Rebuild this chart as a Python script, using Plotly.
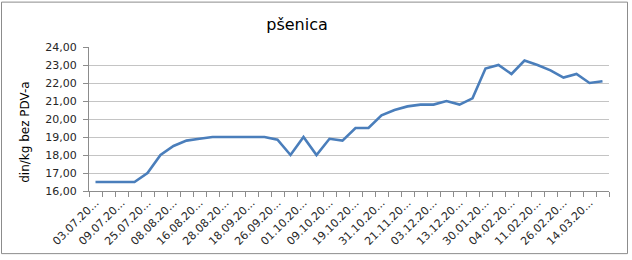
import plotly.graph_objects as go

# Data
values = [16.5, 16.5, 16.5, 16.5, 17.0, 18.0, 18.5, 18.8, 18.9, 19.0,
          19.0, 19.0, 19.0, 19.0, 18.85, 18.0, 19.0, 18.0, 18.9, 18.8,
          19.5, 19.5, 20.2, 20.5, 20.7, 20.8, 20.8, 21.0, 20.8, 21.15,
          22.8, 23.0, 22.5, 23.25, 23.0, 22.7, 22.3, 22.5, 22.0, 22.1]
# visible (truncated) tick labels, one every second observation
tick_labels = ["03.07.20...", "09.07.20...", "25.07.20...", "08.08.20...",
               "16.08.20...", "28.08.20...", "18.09.20...", "26.09.20...",
               "01.10.20...", "09.10.20...", "19.10.20...", "31.10.20...",
               "21.11.20...", "03.12.20...", "13.12.20...", "30.01.20...",
               "04.02.20...", "11.02.20...", "26.02.20...", "14.03.20..."]
title_text = "pšenica"
y_title = "din/kg bez PDV-a"

n = len(values)
xs = list(range(n))
tickvals = xs[::2][:len(tick_labels)]

FONT = "DejaVu Sans"
W, H = 632, 260
ML, MR, MT, MB = 89, 23, 47, 67

fig = go.Figure()
fig.add_trace(go.Scatter(
    x=xs, y=values, mode="lines",
    line=dict(color="#4a7ebb", width=2.6),
    hoverinfo="skip", showlegend=False,
))

pw = W - ML - MR
ph = H - MT - MB
def px2paper_x(px):
    return (px - ML) / pw
def px2paper_y(py):
    return (H - MB - py) / ph

fig.add_shape(type="rect", xref="paper", yref="paper",
              x0=px2paper_x(1.5), x1=px2paper_x(627.5),
              y0=px2paper_y(256.5), y1=px2paper_y(1.5),
              line=dict(color="#8c8c8c", width=1), fillcolor="rgba(0,0,0,0)",
              layer="below")

fig.add_annotation(text=y_title, textangle=-90, showarrow=False,
                   xref="paper", yref="paper",
                   x=px2paper_x(25), y=px2paper_y(133),
                   xanchor="center", yanchor="middle",
                   font=dict(family=FONT, size=12, color="#000000"))

fig.update_layout(
    width=W, height=H,
    margin=dict(l=ML, r=MR, t=MT, b=MB, pad=0),
    paper_bgcolor="white", plot_bgcolor="white",
    separators=", ",
    font=dict(family=FONT, size=11, color="#262626"),
    title=dict(text=title_text, x=297 / W, xanchor="center",
               y=1 - 24 / H, yanchor="middle", yref="container",
               font=dict(family=FONT, size=16, color="#000000")),
)
fig.update_xaxes(
    range=[-0.5, n - 0.5],
    tickmode="array", tickvals=tickvals, ticktext=tick_labels,
    tickangle=-45, ticks="", showgrid=False, zeroline=False,
    showline=True, linecolor="#8c8c8c", linewidth=1,
    minor=dict(tickmode="array", tickvals=[i - 0.5 for i in range(n + 1)],
               ticks="outside", ticklen=5, tickcolor="#8c8c8c", showgrid=False),
    tickfont=dict(family=FONT, size=11, color="#262626"),
)
fig.update_yaxes(
    range=[16, 24], dtick=1, tick0=16, tickformat=".2f",
    ticks="outside", ticklen=5, tickcolor="#8c8c8c", ticklabelstandoff=4,
    showgrid=True, gridcolor="#c4c4c4", gridwidth=1, zeroline=False,
    showline=True, linecolor="#8c8c8c", linewidth=1,
    tickfont=dict(family=FONT, size=11, color="#262626"),
)

fig.write_html("out.html")
